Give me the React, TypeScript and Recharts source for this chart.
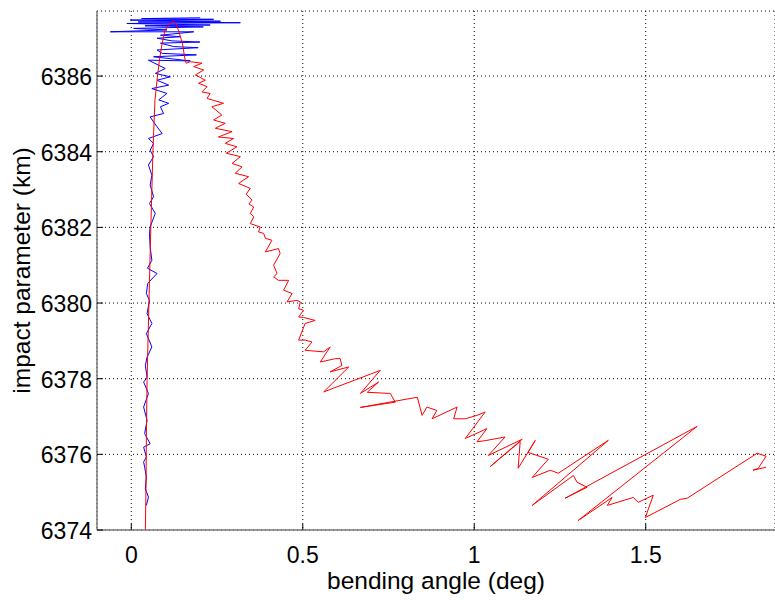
import React from 'react';
import { LineChart, Line, XAxis, YAxis, CartesianGrid } from 'recharts';

const FONT = '"Liberation Sans", Arial, Helvetica, sans-serif';

// bending angle (deg) / impact parameter (km) for the red (model) curve
const redX = [
  0.041, 0.043, 0.044, 0.046, 0.052, 0.057, 0.063, 0.069, 0.076, 0.082, 0.090, 0.099, 0.111, 0.122, 0.131, 0.137, 0.149, 0.157, 0.160,
  0.172, 0.206, 0.182, 0.211, 0.187, 0.216, 0.196, 0.221, 0.206, 0.230, 0.221, 0.269, 0.235, 0.264, 0.240, 0.274, 0.245, 0.294, 0.254, 0.298,
  0.274, 0.308, 0.277, 0.318, 0.294, 0.323, 0.303, 0.342, 0.313, 0.347, 0.335, 0.352, 0.343, 0.357, 0.347, 0.357, 0.347, 0.376, 0.371, 0.386,
  0.391, 0.410, 0.391, 0.429, 0.434, 0.415, 0.425, 0.415, 0.429, 0.459, 0.444, 0.469, 0.454, 0.483, 0.493, 0.488, 0.502, 0.488, 0.502, 0.536,
  0.507, 0.488, 0.507, 0.527, 0.507, 0.561, 0.580, 0.551, 0.595, 0.609, 0.614, 0.580, 0.634, 0.561, 0.726, 0.668, 0.721, 0.688, 0.755, 0.770,
  0.668, 0.834, 0.848, 0.862, 0.891, 0.877, 0.950, 0.940, 0.974, 1.008, 1.032, 0.974, 1.037, 1.008, 1.037, 1.090, 1.041, 1.140, 1.047, 1.134,
  1.128, 1.178, 1.157, 1.216, 1.169, 1.222, 1.245, 1.391, 1.169, 1.289, 1.300, 1.329, 1.265, 1.650, 1.303, 1.402, 1.388, 1.464, 1.478, 1.522,
  1.499, 1.601, 1.621, 1.825, 1.851, 1.828, 1.813, 1.851,
];
const redY = [
  6374.00, 6375.20, 6376.50, 6377.96, 6380.23, 6382.00, 6383.99, 6385.36, 6385.97, 6386.42, 6386.87, 6387.22, 6387.38, 6387.44, 6387.38, 6387.22, 6386.87, 6386.42, 6386.34,
  6386.38, 6386.34, 6386.25, 6386.16, 6386.03, 6385.89, 6385.81, 6385.72, 6385.58, 6385.54, 6385.41, 6385.28, 6385.19, 6384.97, 6384.84, 6384.75, 6384.62, 6384.53, 6384.39, 6384.35,
  6384.22, 6384.13, 6383.96, 6383.87, 6383.69, 6383.60, 6383.43, 6383.34, 6383.16, 6383.03, 6382.88, 6382.72, 6382.62, 6382.54, 6382.37, 6382.28, 6382.10, 6382.01, 6381.88, 6381.84,
  6381.71, 6381.66, 6381.35, 6381.44, 6381.31, 6381.00, 6380.78, 6380.69, 6380.60, 6380.60, 6380.34, 6380.25, 6380.03, 6380.07, 6380.03, 6379.85, 6379.81, 6379.63, 6379.62, 6379.54,
  6379.46, 6379.02, 6379.02, 6378.97, 6378.75, 6378.71, 6378.84, 6378.44, 6378.53, 6378.53, 6378.35, 6378.18, 6378.31, 6377.65, 6378.22, 6377.61, 6377.91, 6377.64, 6377.61, 6377.38,
  6377.24, 6377.51, 6377.03, 6377.25, 6377.16, 6376.94, 6377.25, 6376.94, 6376.94, 6377.03, 6377.12, 6376.42, 6376.68, 6376.33, 6376.37, 6376.46, 6375.97, 6376.40, 6375.68, 6376.34,
  6375.63, 6376.37, 6376.05, 6375.87, 6375.39, 6375.58, 6375.50, 6376.37, 6374.65, 6375.44, 6375.26, 6375.13, 6374.84, 6376.74, 6374.25, 6374.86, 6374.65, 6374.86, 6374.73, 6374.92,
  6374.33, 6374.81, 6374.84, 6376.03, 6375.95, 6375.63, 6375.58, 6375.66,
];

// blue (observed) curve
const blueX = [
  0.044, 0.050, 0.041, 0.044, 0.039, 0.036, 0.044, 0.036, 0.055, 0.039, 0.046, 0.036, 0.050, 0.036, 0.046, 0.041, 0.046, 0.060, 0.044, 0.060,
  0.046, 0.053, 0.044, 0.048, 0.075, 0.047, 0.060, 0.055, 0.053, 0.055, 0.070, 0.053, 0.065, 0.055, 0.060, 0.050, 0.065, 0.055, 0.065, 0.050,
  0.090, 0.075, 0.055, 0.094, 0.085, 0.109, 0.080, 0.104, 0.060, 0.109, 0.075, 0.114, 0.070, 0.099, 0.050, 0.172, 0.065, 0.190, 0.090, 0.075,
  0.195, 0.123, 0.085, 0.200, 0.119, 0.075, 0.143, 0.085, 0.182, -0.061, 0.104, 0.007, 0.210, 0.040, 0.230, -0.013, 0.318, 0.020, 0.260,
  -0.003, 0.240, 0.030, 0.201,
];
const blueY = [
  6374.65, 6374.87, 6375.09, 6375.40, 6375.66, 6375.80, 6375.93, 6376.19, 6376.28, 6376.55, 6376.90, 6377.25, 6377.61, 6377.91, 6378.04, 6378.35, 6378.57, 6378.84, 6379.19, 6379.46,
  6379.72, 6380.07, 6380.25, 6380.52, 6380.78, 6380.92, 6381.13, 6381.48, 6381.84, 6382.01, 6382.37, 6382.63, 6382.81, 6383.12, 6383.38, 6383.65, 6383.87, 6384.04, 6384.22, 6384.35,
  6384.48, 6384.66, 6384.92, 6385.01, 6385.19, 6385.28, 6385.37, 6385.54, 6385.67, 6385.76, 6385.89, 6385.98, 6386.07, 6386.20, 6386.42, 6386.40, 6386.51, 6386.56, 6386.60, 6386.69,
  6386.75, 6386.78, 6386.87, 6386.90, 6386.93, 6387.00, 6387.04, 6387.08, 6387.17, 6387.17, 6387.22, 6387.26, 6387.30, 6387.33, 6387.35, 6387.39, 6387.41, 6387.43, 6387.45,
  6387.48, 6387.50, 6387.52, 6387.54,
];

const xTicks = [0, 0.5, 1, 1.5];
const yTicks = [6374, 6376, 6378, 6380, 6382, 6384, 6386];
const xDomain = [-0.1, 1.877];
const yDomain = [6374, 6387.72];

const redData = redX.map((x, i) => ({ x, y: redY[i] }));
const blueData = blueX.map((x, i) => ({ x, y: blueY[i] }));

const BottomTick = (props: any) => {
  const { x, y, payload } = props;
  return (
    <g>
      <line x1={x} x2={x} y1={y} y2={y - 6} stroke="#000" strokeWidth={1} />
      <text x={x} y={y + 33} textAnchor="middle" fontSize={23} fontFamily={FONT} fill="#000">
        {String(payload.value)}
      </text>
    </g>
  );
};

const TopTick = (props: any) => {
  const { x, y } = props;
  return <line x1={x} x2={x} y1={y} y2={y + 6} stroke="#000" strokeWidth={1} />;
};

const LeftTick = (props: any) => {
  const { x, y, payload } = props;
  return (
    <g>
      <line x1={x} x2={x + 6} y1={y} y2={y} stroke="#000" strokeWidth={1} />
      <text x={x - 5} y={y + 9} textAnchor="end" fontSize={23} fontFamily={FONT} fill="#000">
        {String(payload.value)}
      </text>
    </g>
  );
};

export default function App() {
  return (
    <div style={{ position: 'absolute', left: 0, top: 0, width: 775, height: 600, background: '#fff' }}>
      <LineChart width={775} height={600} margin={{ top: 11, right: 0, bottom: 10, left: 10 }}>
        <CartesianGrid stroke="#000" strokeDasharray="1 3" strokeWidth={1} />
        <XAxis
          xAxisId={0}
          type="number"
          dataKey="x"
          domain={xDomain}
          ticks={xTicks}
          allowDataOverflow
          height={60}
          tickSize={0}
          tickMargin={0}
          tickLine={false}
          axisLine={{ stroke: '#7a7a7a', strokeWidth: 1.5 }}
          tick={<BottomTick />}
          interval={0}
          label={{ value: 'bending angle (deg)', position: 'insideBottom', offset: 1, style: { fontSize: 24.5, fontFamily: FONT, fill: '#000' } }}
        />
        <XAxis
          xAxisId="top"
          orientation="top"
          type="number"
          dataKey="x"
          domain={xDomain}
          ticks={xTicks}
          allowDataOverflow
          height={0}
          tickSize={0}
          tickMargin={0}
          tickLine={false}
          axisLine={{ stroke: '#000', strokeWidth: 1 }}
          tick={<TopTick />}
          interval={0}
        />
        <YAxis
          type="number"
          domain={yDomain}
          ticks={yTicks}
          allowDataOverflow
          width={87}
          tickSize={0}
          tickMargin={0}
          tickLine={false}
          axisLine={{ stroke: '#7a7a7a', strokeWidth: 1.5 }}
          tick={<LeftTick />}
          interval={0}
          label={{ value: 'impact parameter (km)', angle: -90, position: 'insideLeft', offset: 11, style: { textAnchor: 'middle', fontSize: 24.5, fontFamily: FONT, fill: '#000' } }}
        />
        <Line data={blueData} dataKey="y" type="linear" stroke="#0000ff" strokeWidth={1} dot={false} isAnimationActive={false} />
        <Line data={redData} dataKey="y" type="linear" stroke="#ff0000" strokeWidth={1} dot={false} isAnimationActive={false} />
      </LineChart>
    </div>
  );
}
